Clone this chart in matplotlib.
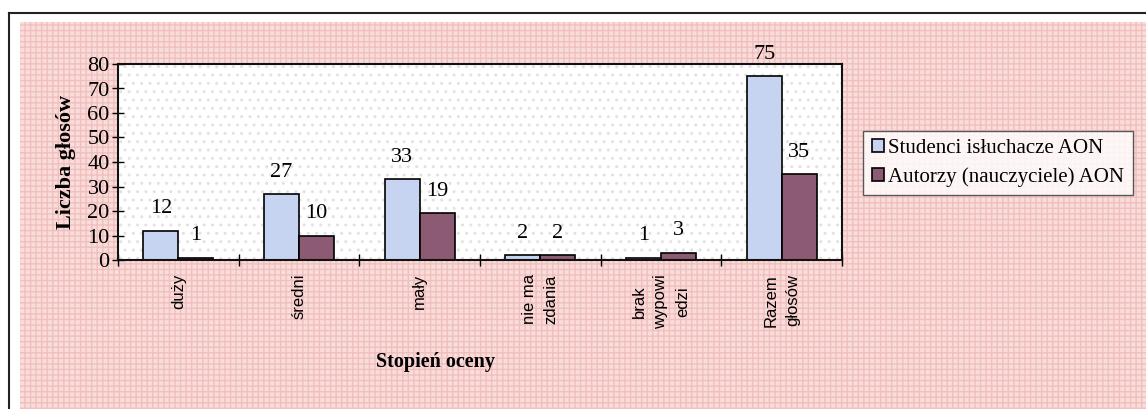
import numpy as np
import matplotlib.pyplot as plt
from matplotlib.patches import Rectangle
from matplotlib.lines import Line2D

categories = ["duży", "średni", "mały", "nie ma\nzdania", "brak\nwypowi\nedzi", "Razem\ngłosów"]
studenci = [12, 27, 33, 2, 1, 75]
autorzy = [1, 10, 19, 2, 3, 35]
series_names = ["Studenci isłuchacze AON", "Autorzy (nauczyciele) AON"]

serif = ["Liberation Serif", "DejaVu Serif"]
sans = ["Liberation Sans", "DejaVu Sans"]

fig = plt.figure(figsize=(11.46, 4.09), dpi=100)
fig.patch.set_facecolor("white")

W, H = 1146, 409
# pink textured background
bg = Rectangle((20 / W, 0), 1 - 20 / W, 1 - 22 / H, transform=fig.transFigure,
               facecolor="#f8dddb", edgecolor="#f1bfbd", hatch="+++", lw=0, zorder=-10)
fig.patches.append(bg)
# scanned frame lines
fig.add_artist(Line2D([9 / W, 9 / W], [0, 1 - 13 / H], transform=fig.transFigure, color="#222222", lw=1.5))
fig.add_artist(Line2D([9 / W, 1], [1 - 13 / H, 1 - 13 / H], transform=fig.transFigure, color="#222222", lw=1.5))

ax = fig.add_axes([118 / W, 1 - 260 / H, (842 - 118) / W, (260 - 64) / H])
ax.set_facecolor("white")
ax.add_patch(Rectangle((0, 0), 1, 1, transform=ax.transAxes, facecolor="none",
                       edgecolor="#e2e2e2", hatch="..", lw=0, zorder=0))

x = np.arange(len(categories))
w = 0.29
b1 = ax.bar(x - w / 2, studenci, w, color="#c6d4f2", edgecolor="black", lw=1.2, zorder=2,
            label=series_names[0])
b2 = ax.bar(x + w / 2, autorzy, w, color="#8c5a72", edgecolor="black", lw=1.2, zorder=2,
            label=series_names[1])

for xi, v in zip(x - w / 2, studenci):
    ax.text(xi, v + 5, str(v), ha="center", va="bottom", fontsize=16, family=serif, clip_on=False)
for xi, v in zip(x + w / 2, autorzy):
    ax.text(xi, v + 5, str(v), ha="center", va="bottom", fontsize=16, family=serif, clip_on=False)

ax.set_xlim(-0.5, len(categories) - 0.5)
ax.set_ylim(0, 80)
ax.set_yticks(range(0, 81, 10))
ax.set_yticklabels([str(t) for t in range(0, 81, 10)], family=serif, fontsize=16)
ax.set_xticks(np.arange(len(categories) + 1) - 0.5)
ax.set_xticklabels([])
ax.set_xticks(x, minor=True)
ax.set_xticklabels(categories, minor=True, rotation=90, ha="center", va="top",
                   family=sans, fontsize=12, linespacing=1.55)
ax.tick_params(axis="x", which="minor", length=0, pad=10)
ax.tick_params(axis="x", which="major", direction="inout", length=8, width=1)
ax.tick_params(axis="y", direction="inout", length=8, width=1, pad=2)
for s in ax.spines.values():
    s.set_linewidth(1.5)
    s.set_color("#111111")

ax.set_ylabel("Liczba głosów", family=serif, fontsize=16, fontweight="bold", labelpad=8)
fig.text(435 / W, 1 - 362 / H, "Stopień oceny", family=serif, fontsize=14.5,
         fontweight="bold", ha="center", va="center")

leg = fig.legend(handles=[b1, b2], loc="center", bbox_to_anchor=(998 / W, 1 - 163 / H),
                 prop={"family": serif, "size": 15}, frameon=True, fancybox=False,
                 handlelength=0.6, handleheight=0.6, handletextpad=0.2,
                 borderpad=0.4, labelspacing=0.45)
leg.get_frame().set_edgecolor("#333333")
leg.get_frame().set_facecolor("white")
leg.get_frame().set_linewidth(1)

fig.savefig("out.png", dpi=100)
